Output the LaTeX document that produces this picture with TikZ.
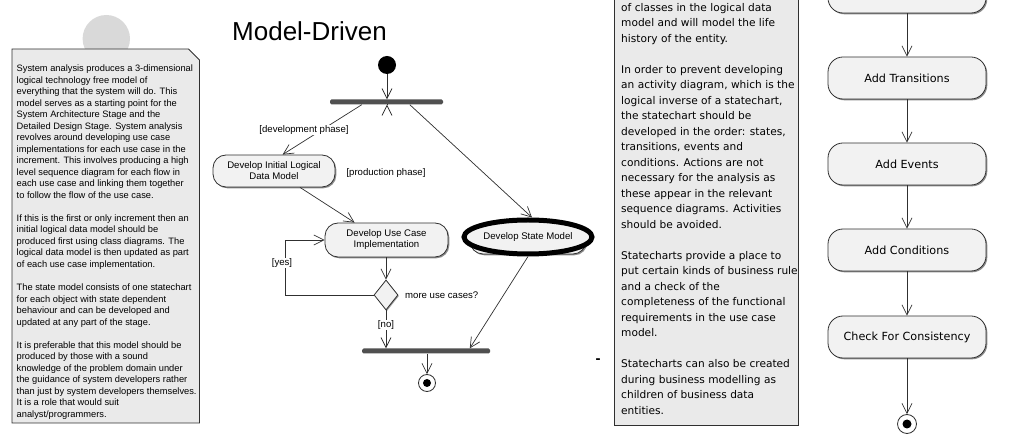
\documentclass[tikz,border=0pt]{standalone}
\usepackage{fontspec}
\setmainfont{Liberation Sans}
\newfontfamily\dvsans{DejaVu Sans}
\usetikzlibrary{arrows.meta,shapes.geometric,shadows,calc}

\definecolor{notefill}{HTML}{EAEAEA}
\definecolor{boxfill}{HTML}{F2F2F2}
\definecolor{edgecol}{HTML}{303030}
\definecolor{barcol}{HTML}{505050}
\definecolor{blobcol}{HTML}{D9D9D9}

\tikzset{
  lbl/.style={font=\fontsize{9.6}{11}\selectfont},
  act/.style={draw=edgecol, fill=boxfill, rounded corners=13pt, inner sep=0pt,
    align=center, line width=0.8pt,
    drop shadow={shadow xshift=1.3pt, shadow yshift=-1.3pt, fill=black, opacity=0.45}},
  sbox/.style={act, minimum width=158pt, minimum height=42pt, rounded corners=15pt,
    font=\dvsans\fontsize{11.2}{13}\selectfont},
  syncbar/.style={fill=barcol, rounded corners=1.5pt, minimum height=5pt, inner sep=0pt},
  arr/.style={draw=edgecol, line width=0.7pt, -{Straight Barb[length=10pt,width=10pt]}},
  guard/.style={fill=white, inner sep=0.8pt, lbl},
  notebox/.style={draw=edgecol, fill=notefill, line width=0.8pt},
  endring/.style={circle, draw=edgecol, fill=white, line width=0.8pt, inner sep=0pt},
  enddot/.style={circle, fill=black, inner sep=0pt},
}

\begin{document}
\begin{tikzpicture}[x=1pt, y=-1pt]
\useasboundingbox (0,0) rectangle (1013,435);

% ---------- left note with grey disc behind it ----------
\fill[blobcol] (106.3,38.7) circle[radius=23.7];
\draw[notebox] (12,49) -- (188.5,49) -- (199.5,60) -- (199.5,423) -- (12,423) -- cycle;
\node[anchor=base west, inner sep=0pt] (lnote) at (16.5,71.5) {\parbox[t]{186pt}{%
  \fontsize{9.3}{11.53}\selectfont\raggedright
  System analysis produces a 3-dimensional\\
  logical technology free model of\\
  everything that the system will do. This\\
  model serves as a starting point for the\\
  System Architecture Stage and the\\
  Detailed Design Stage. System analysis\\
  revolves around developing use case\\
  implementations for each use case in the\\
  increment. This involves producing a high\\
  level sequence diagram for each flow in\\
  each use case and linking them together\\
  to follow the flow of the use case.\\[11.53pt]
  If this is the first or only increment then an\\
  initial logical data model should be\\
  produced first using class diagrams. The\\
  logical data model is then updated as part\\
  of each use case implementation.\\[11.53pt]
  The state model consists of one statechart\\
  for each object with state dependent\\
  behaviour and can be developed and\\
  updated at any part of the stage.\\[11.53pt]
  It is preferable that this model should be\\
  produced by those with a sound\\
  knowledge of the problem domain under\\
  the guidance of system developers rather\\
  than just by system developers themselves.\\
  It is a role that would suit\\
  analyst/programmers.}};

% ---------- title ----------
\node[anchor=base west, inner sep=0pt, font=\fontsize{26}{30}\selectfont] (title) at (232,41) {Model-Driven};

% ---------- model-driven activity diagram ----------
\node[circle, fill=black, minimum size=18pt, inner sep=0pt] (start) at (387,65) {};
\node[syncbar, minimum width=113pt] (fork) at (386.5,102) {};
\node[act, lbl, minimum width=122pt, minimum height=32pt] (dil) at (274,171) {Develop Initial Logical\\Data Model};
\node[act, lbl, minimum width=123pt, minimum height=34pt] (duc) at (386.5,240) {Develop Use Case\\Implementation};
\node[act, minimum width=116pt, minimum height=30pt] (dsmbox) at (528,239) {};
\node[ellipse, draw=black, line width=5pt, fill=boxfill, minimum width=128pt, minimum height=34pt,
      inner sep=0pt, lbl] (dsm) at (528,237) {Develop State Model};
\node[diamond, draw=edgecol, fill=boxfill, line width=0.8pt, minimum width=24pt, minimum height=30pt,
      inner sep=0pt, drop shadow={shadow xshift=1pt, shadow yshift=-1pt, fill=black, opacity=0.4}] (dia) at (386,295) {};
\node[lbl, anchor=west, inner sep=0pt] (more) at (405,295) {more use cases?};
\node[syncbar, minimum width=128pt] (join) at (426,351) {};
\node[endring, minimum size=17pt] (fin) at (427,383) {};
\node[enddot, minimum size=8pt] (findot) at (fin) {};
\node[inner sep=0pt, font=\fontsize{15}{15}\selectfont\bfseries] (dash) at (598,361) {-};

\draw[arr] (start.south) -- (start.south |- fork.north);
\draw[arr] ([xshift=32pt]fork.south west) -- ([xshift=70pt]dil.north west);
\node[guard] (gdev) at (304,130) {[development phase]};
\draw[arr] (fork.south -| start) -- (fork.south -| start |- duc.north);
\node[guard] (gprod) at (386,173) {[production phase]};
\draw[arr] ([xshift=80pt]fork.south west) -- ([xshift=4pt]dsm.north);
\draw[arr] ([xshift=26pt]dil.south) -- ([xshift=30pt]duc.north west);
\draw[arr] (duc.south -| dia) -- (dia.north);
\draw[arr] (dia.west) -| ([xshift=-39pt]duc.west) -- (duc.west);
\node[guard] (gyes) at (282,263) {[yes]};
\draw[arr] (dia.south) -- (dia.south |- join.north);
\node[guard] (gno) at (386,325) {[no]};
\draw[arr] (dsm.south) -- ([xshift=108pt]join.north west);
\draw[arr] (join.south -| fin) -- (fin.north);

% ---------- right note ----------
\draw[notebox] (614,-3) rectangle (798.5,425);
\begin{scope}
  \clip (614,-3) rectangle (798,425);
  \node[anchor=base west, inner sep=0pt] (rnote) at (621,11.5) {\parbox[t]{200pt}{%
    \dvsans\fontsize{10.6}{15.5}\selectfont\raggedright
    of classes in the logical data\\
    model and will model the life\\
    history of the entity.\\[15.5pt]
    In order to prevent developing\\
    an activity diagram, which is the\\
    logical inverse of a statechart,\\
    the statechart should be\\
    developed in the order: states,\\
    transitions, events and\\
    conditions. Actions are not\\
    necessary for the analysis as\\
    these appear in the relevant\\
    sequence diagrams. Activities\\
    should be avoided.\\[15.5pt]
    Statecharts provide a place to\\
    put certain kinds of business rule\\
    and a check of the\\
    completeness of the functional\\
    requirements in the use case\\
    model.\\[15.5pt]
    Statecharts can also be created\\
    during business modelling as\\
    children of business data\\
    entities.}};
\end{scope}

% ---------- statechart development steps ----------
\node[sbox] (s0) at (907,-8) {};
\node[sbox] (s1) at (907,78) {Add Transitions};
\node[sbox] (s2) at (907,164) {Add Events};
\node[sbox] (s3) at (907,250) {Add Conditions};
\node[sbox] (s4) at (907,337) {Check For Consistency};
\node[endring, minimum size=19pt] (fin2) at (907,424) {};
\node[enddot, minimum size=9pt] (fin2dot) at (fin2) {};

\draw[arr] (s0.south) -- (s1.north);
\draw[arr] (s1.south) -- (s2.north);
\draw[arr] (s2.south) -- (s3.north);
\draw[arr] (s3.south) -- (s4.north);
\draw[arr] (s4.south) -- (fin2.north);
\end{tikzpicture}
\end{document}
